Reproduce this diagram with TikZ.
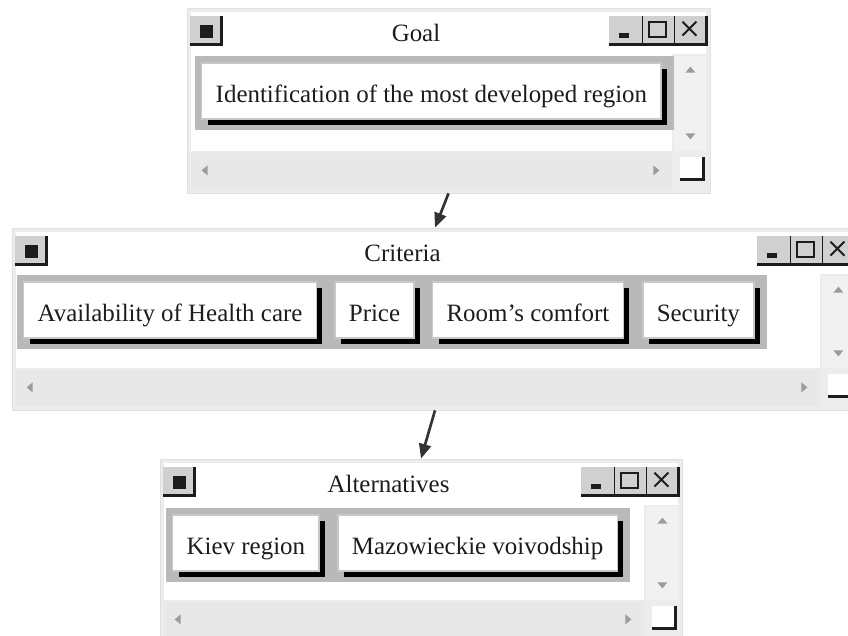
\documentclass[tikz,border=0pt]{standalone}
\usepackage{fontspec}
\setmainfont{Liberation Serif}
\usepackage{tikz}
\usetikzlibrary{positioning,arrows.meta,calc,fit,backgrounds,shadows}
\definecolor{winbg}{HTML}{ECECEC}
\definecolor{winedge}{HTML}{E0E0E0}
\definecolor{vbar}{HTML}{F1F1F1}
\definecolor{hbar}{HTML}{E8E8E8}
\definecolor{tbgrey}{HTML}{D0D0D0}
\definecolor{panelgrey}{HTML}{B9B9B9}
\definecolor{btnedge}{HTML}{C8C8C8}
\definecolor{glyph}{HTML}{9C9C9C}
\definecolor{ink}{HTML}{1C1C1C}
\pgfdeclarelayer{chrome}
\pgfsetlayers{chrome,background,main}
\tikzset{
  win/.style={rectangle, draw=winedge, fill=winbg, line width=0.6pt, inner sep=0pt},
  panel/.style={rectangle, fill=panelgrey, inner sep=0pt},
  btn/.style={rectangle, fill=white, draw=btnedge, line width=1.1pt,
              inner xsep=10.5pt, minimum height=42pt, text=ink,
              text height=17pt, text depth=0pt,
              font=\fontsize{18.7}{22}\selectfont,
              general shadow={fill=black, shadow xshift=4.5pt, shadow yshift=-4.5pt}},
  ttl/.style={text=ink, inner sep=0pt, font=\fontsize{18.7}{22}\selectfont},
  bevel/.style={draw=ink, line width=1.8pt},
  divider/.style={draw=ink, line width=1.2pt},
  arr/.style={-{Triangle[length=11pt,width=9pt]}, line width=2pt, draw=ink!90},
}
% one application window: name, x1, y1, x2, y2 (pixels), title
\newcommand{\appwin}[6]{%
  \begin{pgfonlayer}{chrome}
    \coordinate (#1-nw) at (#2,#3);
    \coordinate (#1-se) at (#4,#5);
    \node[win, fit=(#1-nw)(#1-se)] (#1) {};
    \fill[white] ($(#1.north west)+(4,4)$) rectangle ($(#1.south east)+(-38,-42)$);
    \fill[white] ($(#1.north west)+(4,4)$) rectangle ($(#1.north east)+(-4,46)$);
    % scroll bars and grip
    \fill[vbar] ($(#1.north east)+(-36,48)$) rectangle ($(#1.south east)+(-4,-42)$);
    \fill[hbar] ($(#1.south west)+(4,-40)$) rectangle ($(#1.south east)+(-38,-4)$);
    \fill[glyph] ($(#1.north east)+(-20,62)$) +(-5,3) -- +(5,3) -- +(0,-3) -- cycle;
    \fill[glyph] ($(#1.south east)+(-20,-57)$) +(-5,-3) -- +(5,-3) -- +(0,3) -- cycle;
    \fill[glyph] ($(#1.south west)+(18,-23)$) +(3,-5) -- +(3,5) -- +(-3,0) -- cycle;
    \fill[glyph] ($(#1.south east)+(-54,-23)$) +(-3,-5) -- +(-3,5) -- +(3,0) -- cycle;
    \fill[white] ($(#1.south east)+(-30,-36)$) rectangle ($(#1.south east)+(-6,-13)$);
    \draw[bevel] ($(#1.south east)+(-30,-14)$) -| ($(#1.south east)+(-7,-36)$);
    % title bar
    \fill[tbgrey] ($(#1.north west)+(3,8)$) rectangle ($(#1.north west)+(36,38)$);
    \draw[bevel] ($(#1.north west)+(3,37)$) -| ($(#1.north west)+(35,8)$);
    \fill[ink] ($(#1.north west)+(13,17)$) rectangle ($(#1.north west)+(26,30)$);
    \fill[tbgrey] ($(#1.north east)+(-101,8)$) rectangle ($(#1.north east)+(-3,38)$);
    \draw[bevel] ($(#1.north east)+(-101,37)$) -| ($(#1.north east)+(-4,8)$);
    \draw[divider] ($(#1.north east)+(-68,8)$) -- ++(0,29);
    \draw[divider] ($(#1.north east)+(-36,8)$) -- ++(0,29);
    \fill[ink] ($(#1.north east)+(-91,25)$) rectangle ++(10,5);
    \draw[ink, line width=1.4pt] ($(#1.north east)+(-61,14)$) rectangle ++(17,15);
    \draw[ink, line width=1.5pt] ($(#1.north east)+(-28,14)$) -- ++(14,14) ++(0,-14) -- ++(-14,14);
    \node[ttl] (#1-title) at ({(#2+#4-65)/2},{#3+25}) {#6};
  \end{pgfonlayer}}

\begin{document}
\begin{tikzpicture}[x=0.75pt, y=-0.75pt]
  \useasboundingbox (0,0) rectangle (848,635);
  \appwin{goal}{187}{8}{710}{193}{Goal}
  \appwin{crit}{12}{228}{858}{410}{Criteria}
  \appwin{alt}{160}{459}{682}{642}{Alternatives}

  \node[btn, anchor=west] (ident) at (201,91) {Identification of the most developed region};

  \node[btn, anchor=west] (health) at (23,310) {Availability of Health care};
  \node[btn, right=12.75pt of health] (price) {Price};
  \node[btn, right=12.75pt of price] (comfort) {Room's comfort};
  \node[btn, right=13.5pt of comfort] (security) {Security};

  \node[btn, anchor=west] (kiev) at (172,543) {Kiev region};
  \node[btn, right=13pt of kiev] (mazow) {Mazowieckie voivodship};

  \begin{scope}[on background layer]
    \node[panel, fit={($(ident.north west)+(-6,-6)$) ($(ident.south east)+(12,10)$)}] (goal-panel) {};
    \node[panel, fit={($(health.north west)+(-6,-6)$) ($(security.south east)+(12,10)$)}] (crit-panel) {};
    \node[panel, fit={($(kiev.north west)+(-6,-6)$) ($(mazow.south east)+(12,10)$)}] (alt-panel) {};
  \end{scope}

  \draw[arr] (goal.south) -- (crit.north);
  \draw[arr] (crit.south) -- (alt.north);
\end{tikzpicture}
\end{document}
